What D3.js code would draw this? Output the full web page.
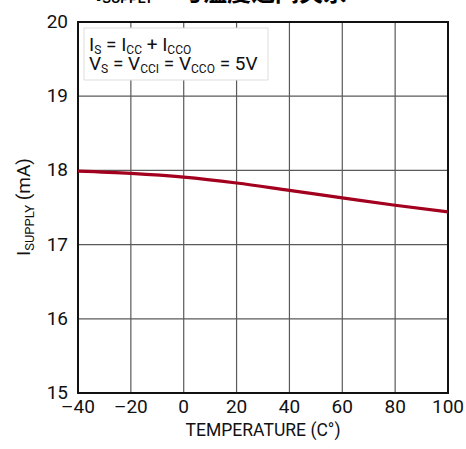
<!DOCTYPE html>
<html><head><meta charset="utf-8">
<script src="https://cdn.jsdelivr.net/npm/d3@7"></script>
<style>
body{margin:0;background:#fff;}
text{font-family:"Liberation Sans Narrow","Roboto","Liberation Sans",sans-serif;}
</style></head>
<body><svg id="c" width="466" height="449"></svg>
<script>
const temps = [-40, -20, 0, 20, 40, 60, 80, 100];
const isupply = [17.99, 17.96, 17.91, 17.83, 17.73, 17.63, 17.53, 17.44];
const xTicks = [-40, -20, 0, 20, 40, 60, 80, 100];
const yTicks = [15, 16, 17, 18, 19, 20];

const svg = d3.select("#c");
const L = 78, R = 448, T = 22, B = 393;
const x = d3.scaleLinear().domain([-40, 100]).range([L, R]);
const y = d3.scaleLinear().domain([15, 20]).range([B, T]);

// clipped title (only the bottom is visible in the reference)
const tt = svg.append("text").attr("x", 95).attr("y", 1).attr("font-weight", "bold")
  .style("font-family", "'Noto Sans CJK SC',sans-serif");
tt.append("tspan").attr("font-size", 22).text("I");
tt.append("tspan").attr("font-size", 13).attr("dy", 2).attr("font-family","Liberation Sans").text("SUPPLY");
tt.append("tspan").attr("font-size", 24).attr("dy", -2).attr("dx", 26).text("与温度之间关系");

// grid
const g = svg.append("g");
g.selectAll("line.v").data(xTicks.slice(1, -1)).join("line")
  .attr("x1", d => x(d)).attr("x2", d => x(d)).attr("y1", T).attr("y2", B)
  .attr("stroke", "#5a5a5a").attr("stroke-width", 1.2);
g.selectAll("line.h").data(yTicks.slice(1, -1)).join("line")
  .attr("y1", d => y(d)).attr("y2", d => y(d)).attr("x1", L).attr("x2", R)
  .attr("stroke", "#5a5a5a").attr("stroke-width", 1.2);

// legend box
svg.append("rect").attr("x", 84).attr("y", 28).attr("width", 184).attr("height", 52)
  .attr("fill", "#fff").attr("stroke", "#ddd").attr("stroke-width", 1);
const l1 = svg.append("text").attr("x", 89).attr("y", 51).attr("font-size", 19).attr("fill", "#111");
l1.append("tspan").text("I");
l1.append("tspan").attr("font-size", 12).attr("dy", 3).text("S");
l1.append("tspan").attr("dy", -3).text(" = I");
l1.append("tspan").attr("font-size", 12).attr("dy", 3).text("CC");
l1.append("tspan").attr("dy", -3).text(" + I");
l1.append("tspan").attr("font-size", 12).attr("dy", 3).text("CCO");
const l2 = svg.append("text").attr("x", 89).attr("y", 70).attr("font-size", 19).attr("fill", "#111");
l2.append("tspan").text("V");
l2.append("tspan").attr("font-size", 12).attr("dy", 3).text("S");
l2.append("tspan").attr("dy", -3).text(" = V");
l2.append("tspan").attr("font-size", 12).attr("dy", 3).text("CCI");
l2.append("tspan").attr("dy", -3).text(" = V");
l2.append("tspan").attr("font-size", 12).attr("dy", 3).text("CCO");
l2.append("tspan").attr("dy", -3).text(" = 5V");

// border
svg.append("rect").attr("x", L).attr("y", T).attr("width", R - L).attr("height", B - T)
  .attr("fill", "none").attr("stroke", "#111").attr("stroke-width", 2);

// data line
const line = d3.line().x((d, i) => x(temps[i])).y(d => y(d)).curve(d3.curveMonotoneX);
svg.append("path").datum(isupply).attr("d", line).attr("fill", "none")
  .attr("stroke", "#a3001f").attr("stroke-width", 3.2);

// tick labels
svg.selectAll("text.xt").data(xTicks).join("text").attr("class", "xt")
  .attr("x", d => x(d)).attr("y", 413).attr("text-anchor", "middle")
  .attr("font-size", 19).attr("fill", "#111")
  .text(d => d < 0 ? "\u2013" + Math.abs(d) : d);
svg.selectAll("text.yt").data(yTicks).join("text").attr("class", "yt")
  .attr("x", 68).attr("y", d => y(d) + 6).attr("text-anchor", "end")
  .attr("font-size", 19).attr("fill", "#111").text(d => d);

// axis titles
svg.append("text").attr("x", 263).attr("y", 436).attr("text-anchor", "middle")
  .attr("font-size", 19).attr("fill", "#111")
  .attr("textLength", 155).attr("lengthAdjust", "spacingAndGlyphs")
  .text("TEMPERATURE (C°)");
const yt = svg.append("text").attr("transform", `translate(30,207) rotate(-90)`)
  .attr("text-anchor", "middle").attr("font-size", 19).attr("fill", "#111");
yt.append("tspan").text("I");
yt.append("tspan").attr("font-size", 13).attr("dy", 4).text("SUPPLY");
yt.append("tspan").attr("dy", -4).text(" (mA)");
</script></body></html>
